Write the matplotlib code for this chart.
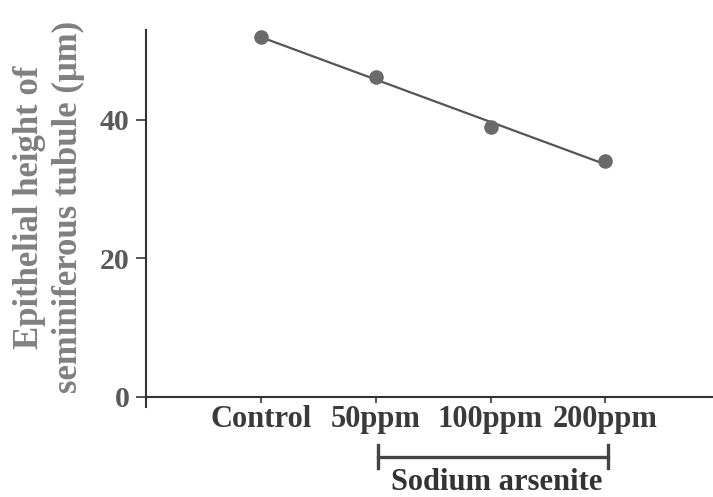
import matplotlib
matplotlib.use('Agg')
import matplotlib.pyplot as plt
import matplotlib.transforms as mtransforms
import numpy as np

categories = ['Control', '50ppm', '100ppm', '200ppm']
heights = [52.0, 46.1, 38.9, 34.0]
yticks = [0, 20, 40]
group_label = 'Sodium arsenite'
ylabel = 'Epithelial height of\nseminiferous tubule (\u03bcm)'

plt.rcParams['font.family'] = ['Liberation Serif', 'DejaVu Serif']
plt.rcParams['font.weight'] = 'bold'

fig = plt.figure(figsize=(7.13, 4.97), dpi=100)
ax = fig.add_axes([0.2048, 0.1803, 0.794, 0.760])

x = np.arange(1, len(categories) + 1)
coef = np.polyfit(x, heights, 1)
ax.plot(x, np.polyval(coef, x), color='#555555', lw=1.6, zorder=2, solid_capstyle='round')
ax.plot(x, heights, 'o', color='#6a6a6a', ms=10.5, zorder=3, markeredgewidth=0)

ax.set_xlim(0, 4.93)
ax.set_ylim(-1.5, 53)

for s in ['top', 'right']:
    ax.spines[s].set_visible(False)
ax.spines['bottom'].set_position(('data', 0))
for s in ['left', 'bottom']:
    ax.spines[s].set_color('#333333')
    ax.spines[s].set_linewidth(1.5)

ax.set_yticks(yticks)
ax.set_yticklabels([str(v) for v in yticks], fontsize=21.5, color='#5a5a5a', fontweight='bold')
ax.tick_params(axis='y', length=7, width=1.3, color='#444444', pad=5)
ax.set_xticks(x)
ax.set_xticklabels(categories, fontsize=22, color='#3a3a3a', fontweight='bold')
ax.tick_params(axis='x', length=4.5, width=1.3, color='#444444', pad=1)

fig.text(49 / 713, 1 - 207 / 497, ylabel, rotation=90, ha='center', va='center',
         multialignment='center', fontsize=25, color='#808080', fontweight='bold',
         linespacing=1.2)

trans = mtransforms.blended_transform_factory(ax.transData, ax.transAxes)
x0, x1 = 2.02, 4.02
ax.plot([x0, x1], [-0.131, -0.131], color='#444444', lw=2.4, transform=trans, clip_on=False)
for xx in (x0, x1):
    ax.plot([xx, xx], [-0.10, -0.161], color='#444444', lw=2.4, transform=trans, clip_on=False)
ax.text(3.056, -0.198, group_label, transform=trans, ha='center', va='center',
        fontsize=22, color='#333333', fontweight='bold')

fig.savefig('out.png', dpi=100)
